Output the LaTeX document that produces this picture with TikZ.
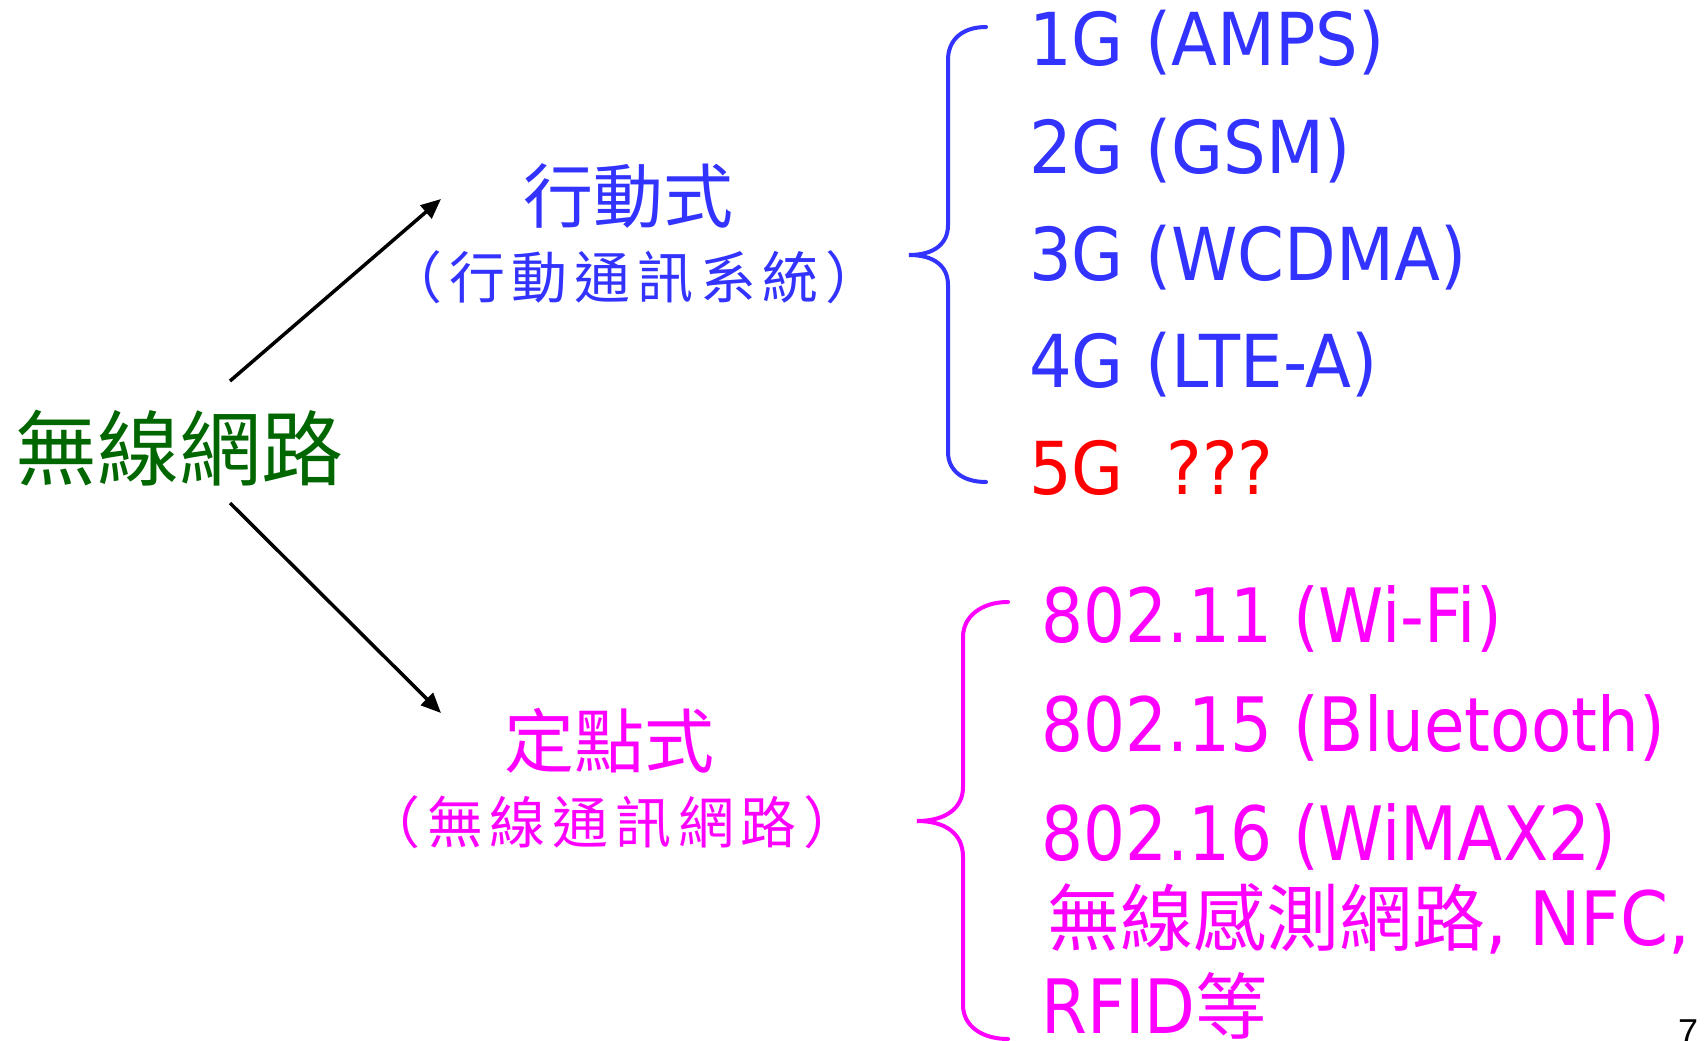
\documentclass[tikz,border=0pt]{standalone}
\usepackage{fontspec}
\newfontfamily\cjk{Noto Sans CJK TC}
\newfontfamily\cjksp[LetterSpace=12]{Noto Sans CJK TC}
\newfontfamily\lat[FakeStretch=0.88]{DejaVu Sans}
\newfontfamily\latb[FakeStretch=0.92]{DejaVu Sans}
\newfontfamily\pagefont{Liberation Sans}
\usetikzlibrary{arrows.meta}
\definecolor{mblue}{RGB}{51,51,255}
\definecolor{mgreen}{RGB}{0,102,0}
\definecolor{mpink}{RGB}{255,0,255}
\definecolor{mred}{RGB}{255,0,0}
\begin{document}
\begin{tikzpicture}[x=1pt,y=-1pt,
  title/.style={inner sep=0,text=mgreen,font=\cjk\fontsize{82}{82}\selectfont},
  cat/.style={inner sep=0,font=\cjk\fontsize{70}{70}\selectfont},
  sub/.style={inner sep=0,font=\cjksp\fontsize{56}{56}\selectfont},
  item/.style={inner sep=0,anchor=base west,font=\latb\fontsize{73}{73}\selectfont},
  pitem/.style={inner sep=0,anchor=base west,text=mpink,font=\lat\fontsize{75}{75}\selectfont},
  link/.style={line width=3.5pt,-{Triangle[length=20pt,width=17pt]}},
  brace/.style={line width=4pt,line cap=round}
]
\useasboundingbox (0,0) rectangle (1706,1041);

% main nodes
\node[title] (root) at (180,448) {無線網路};
\node[cat,text=mblue] (mob) at (628,196) {行動式};
\node[sub,text=mblue] (mobsub) at (634,277) {（行動通訊系統）};
\node[cat,text=mpink] (fix) at (609,741) {定點式};
\node[sub,text=mpink] (fixsub) at (612,822) {（無線通訊網路）};

% arrows
\coordinate (s1) at (230,381);
\coordinate (e1) at (441,199);
\coordinate (s2) at (230,503);
\coordinate (e2) at (441,713);
\draw[link] (s1) -- (e1);
\draw[link] (s2) -- (e2);

% blue brace
\draw[brace,mblue] (986,27) .. controls (962,27) and (948,40) .. (948,60)
  -- (948,225) .. controls (948,244) and (934,255) .. (909,255)
  .. controls (934,255) and (948,266) .. (948,285)
  -- (948,452) .. controls (948,470) and (962,482) .. (986,482);

% pink brace
\draw[brace,mpink] (1008,602) .. controls (982,602) and (963,616) .. (963,637)
  -- (963,787) .. controls (963,808) and (946,821) .. (917,821)
  .. controls (946,821) and (963,834) .. (963,857)
  -- (963,1005) .. controls (963,1026) and (982,1039) .. (1008,1039);

% mobile items
\node[item,text=mblue] (g1) at (1029,66) {1G (AMPS)};
\node[item,text=mblue] (g2) at (1029,173) {2G (GSM)};
\node[item,text=mblue] (g3) at (1029,280) {3G (WCDMA)};
\node[item,text=mblue] (g4) at (1029,387) {4G (LTE-A)};
\node[item,text=mred] (g5) at (1029,494) {5G\ \ ???};

% fixed items
\node[pitem] (w1) at (1041,642) {802.11 (Wi-Fi)};
\node[pitem] (w2) at (1041,751) {802.15 (Bluetooth)};
\node[pitem] (w3) at (1041,860) {802.16 (WiMAX2)};
\node[pitem] (w4) at (1047,945) {{\cjk\fontsize{73}{73}\selectfont 無線感測網路}{\latb , NFC,}};
\node[pitem] (w5) at (1041,1033) {RFID{\cjk\fontsize{72}{72}\selectfont 等}};

% page number
\node[inner sep=0,anchor=base west,font=\pagefont\fontsize{36}{36}\selectfont] (pg) at (1678,1044) {7};
\end{tikzpicture}
\end{document}
